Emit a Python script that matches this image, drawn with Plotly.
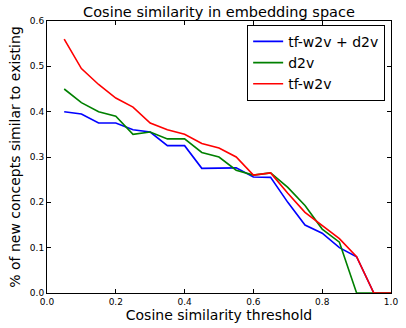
import plotly.graph_objects as go

thresholds = [0.05, 0.1, 0.15, 0.2, 0.25, 0.3, 0.35, 0.4, 0.45, 0.5,
              0.55, 0.6, 0.65, 0.7, 0.75, 0.8, 0.85, 0.9, 0.95, 1.0]
tfw2v_d2v = [0.40, 0.395, 0.375, 0.375, 0.36, 0.355, 0.325, 0.325, 0.275, 0.275,
             0.276, 0.256, 0.255, 0.20, 0.15, 0.132, 0.10, 0.08, 0.0, 0.0]
d2v = [0.45, 0.42, 0.40, 0.39, 0.35, 0.355, 0.34, 0.34, 0.31, 0.30,
       0.271, 0.26, 0.265, 0.233, 0.193, 0.141, 0.112, 0.0, 0.0, 0.0]
tfw2v = [0.56, 0.495, 0.46, 0.43, 0.41, 0.375, 0.36, 0.35, 0.33, 0.32,
         0.30, 0.26, 0.265, 0.22, 0.178, 0.15, 0.12, 0.08, 0.0, 0.0]

series = [("tf-w2v + d2v", tfw2v_d2v, "#0000ff"),
          ("d2v", d2v, "#008000"),
          ("tf-w2v", tfw2v, "#ff0000")]

fig = go.Figure()
for name, vals, col in series:
    fig.add_trace(go.Scatter(x=thresholds, y=vals, mode="lines", name=name,
                             line=dict(color=col, width=1.6)))

font = "DejaVu Sans, sans-serif"
axis_common = dict(showline=True, linecolor="black", linewidth=1, mirror="ticks",
                   ticks="inside", ticklen=4, tickcolor="black", showgrid=False,
                   zeroline=False, tickfont=dict(family=font, size=9, color="black"))
fig.update_layout(
    width=406, height=328,
    margin=dict(l=47, r=8, t=21, b=35),
    paper_bgcolor="white", plot_bgcolor="white",
    font=dict(family=font, color="black"),
    title=dict(text="Cosine similarity in embedding space", xref="paper", x=0.5,
               xanchor="center",
               yref="container", y=(328 - 17) / 328, yanchor="bottom",
               font=dict(family=font, size=14.5, color="black")),
    xaxis=dict(range=[0, 1.0], dtick=0.2, tickformat=".1f",
               title=dict(text="Cosine similarity threshold", standoff=3,
                          font=dict(family=font, size=14)), **axis_common),
    yaxis=dict(range=[0, 0.6], dtick=0.1, tickformat=".1f",
               title=dict(text="% of new concepts similar to existing", standoff=5,
                          font=dict(family=font, size=14)), **axis_common),
    legend=dict(x=0.983, y=0.986, xanchor="right", yanchor="top",
                bordercolor="black", borderwidth=1, bgcolor="white",
                font=dict(family=font, size=14, color="black"),
                tracegroupgap=0),
    showlegend=True,
)
fig.write_html("out.html", config={"displayModeBar": False},
               post_script="document.body.style.margin='0';")
